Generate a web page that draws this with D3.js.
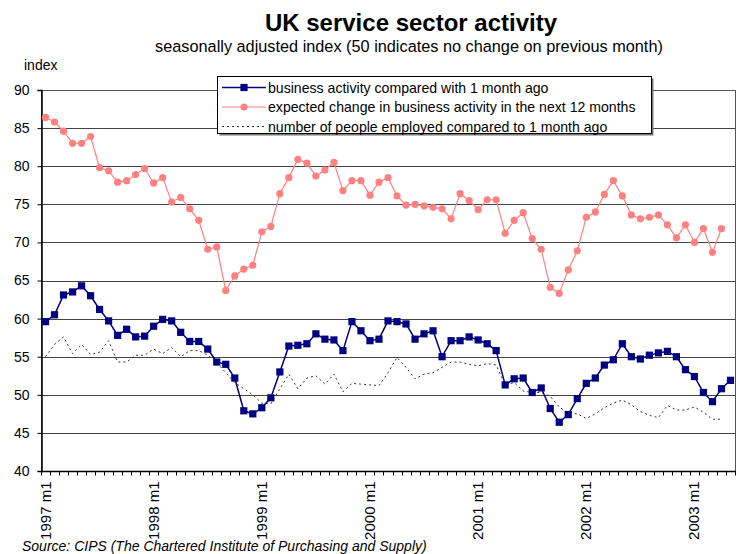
<!DOCTYPE html>
<html>
<head>
<meta charset="utf-8">
<script src="https://cdn.jsdelivr.net/npm/d3@7"></script>
<style>
  html, body { margin: 0; padding: 0; background: #fff; }
  svg { display: block; font-family: Arial, "Liberation Sans", sans-serif; }
</style>
</head>
<body>
<svg id="chart" width="738" height="554"></svg>
<script>
// Monthly categories, 1997 m1 to 2003 m5
const years = [1997, 1998, 1999, 2000, 2001, 2002, 2003];
const categories = [];
years.forEach(yr => {
  for (let m = 1; m <= 12; m++) {
    if (yr === 2003 && m > 5) break;
    categories.push(yr + " m" + m);
  }
});

// Axis labels shown on the category axis
const tickLabels = ["1997 m1", "1998 m1", "1999 m1", "2000 m1", "2001 m1", "2002 m1", "2003 m1"];
const yTicks = [40, 45, 50, 55, 60, 65, 70, 75, 80, 85, 90];

// Business activity compared with 1 month ago
const businessActivity = [
  59.6, 60.5, 63.1, 63.5, 64.3, 63.0, 61.2, 59.7, 57.8, 58.6, 57.6, 57.7,
  59.0, 59.9, 59.7, 58.2, 57.0, 57.0, 56.0, 54.3, 54.0, 52.2, 47.9, 47.5,
  48.3, 49.6, 53.0, 56.4, 56.5, 56.7, 58.0, 57.3, 57.2, 55.8, 59.6, 58.4,
  57.1, 57.3, 59.7, 59.6, 59.3, 57.3, 58.0, 58.4, 55.0, 57.1, 57.1, 57.6,
  57.2, 56.7, 55.8, 51.3, 52.1, 52.2, 50.3, 50.9, 48.2, 46.4, 47.4, 49.5,
  51.5, 52.2, 53.9, 54.6, 56.7, 55.0, 54.7, 55.2, 55.5, 55.7, 55.0, 53.3,
  52.4, 50.3, 49.1, 50.8, 51.9
];

// Expected change in business activity in the next 12 months
const expectedActivity = [
  86.4, 85.8, 84.6, 83.0, 83.0, 83.9, 79.8, 79.4, 77.9, 78.1, 78.9, 79.7,
  77.8, 78.5, 75.3, 75.9, 74.4, 72.9, 69.1, 69.4, 63.7, 65.6, 66.5, 67.0,
  71.4, 72.1, 76.4, 78.5, 80.9, 80.4, 78.7, 79.5, 80.5, 76.8, 78.1, 78.1,
  76.2, 77.9, 78.5, 76.1, 74.9, 75.0, 74.8, 74.6, 74.4, 73.1, 76.4, 75.5,
  74.3, 75.6, 75.6, 71.2, 72.9, 73.9, 70.5, 69.1, 64.1, 63.3, 66.4, 68.9,
  73.3, 74.0, 76.3, 78.1, 76.1, 73.6, 73.1, 73.3, 73.6, 72.3, 70.6, 72.3,
  70.0, 71.8, 68.7, 71.8
];

// Number of people employed compared to 1 month ago
const employment = [
  55.0, 56.6, 57.6, 55.4, 56.6, 55.3, 55.6, 57.1, 54.3, 54.3, 55.2, 55.2,
  56.0, 55.4, 56.2, 55.0, 55.8, 55.8, 55.2, 54.2, 52.9, 51.6, 50.8, 50.0,
  48.9, 48.8, 50.8, 52.7, 50.8, 52.2, 52.5, 51.4, 52.7, 50.4, 51.5, 51.4,
  51.3, 51.2, 52.9, 54.9, 53.6, 52.1, 52.7, 52.9, 53.6, 54.3, 54.3, 54.0,
  53.8, 54.1, 53.9, 51.3, 51.6, 50.5, 50.3, 50.3, 49.8, 48.4, 47.6, 47.5,
  46.9, 47.5, 48.3, 48.9, 49.3, 48.7, 47.8, 47.3, 47.0, 48.6, 48.0, 48.0,
  48.4, 47.7, 46.8, 46.8
];

const svg = d3.select("#chart");
const plot = { left: 41, right: 735, top: 90, bottom: 471 };

const x = d3.scaleBand().domain(categories).range([plot.left, plot.right]);
const y = d3.scaleLinear().domain([40, 90]).range([plot.bottom, plot.top]);
const cx = c => x(c) + x.bandwidth() / 2;
const crisp = v => Math.round(v) + 0.5;

// Title block
svg.append("text").attr("x", 411).attr("y", 31).attr("text-anchor", "middle")
  .attr("font-size", 24).attr("font-weight", "bold").attr("fill", "#000")
  .text("UK service sector activity");
svg.append("text").attr("x", 409).attr("y", 52).attr("text-anchor", "middle")
  .attr("font-size", 16.3).attr("fill", "#000")
  .text("seasonally adjusted index (50 indicates no change on previous month)");
svg.append("text").attr("x", 24).attr("y", 70)
  .attr("font-size", 14).attr("fill", "#000").text("index");

// Plot frame and horizontal gridlines
svg.append("rect")
  .attr("x", crisp(plot.left)).attr("y", crisp(plot.top))
  .attr("width", plot.right - plot.left).attr("height", plot.bottom - plot.top)
  .attr("fill", "none").attr("stroke", "#555").attr("stroke-width", 1);

svg.append("g").selectAll("line")
  .data(yTicks.filter(v => v > 40 && v < 90))
  .join("line")
  .attr("x1", plot.left).attr("x2", plot.right)
  .attr("y1", d => crisp(y(d))).attr("y2", d => crisp(y(d)))
  .attr("stroke", "#444").attr("stroke-width", 1);

// Y axis
const yAxis = d3.axisLeft(y).tickValues(yTicks).tickSize(4).tickPadding(8);
const gy = svg.append("g").attr("transform", `translate(${crisp(plot.left)},0)`).call(yAxis);
gy.select(".domain").attr("stroke", "#000").attr("stroke-width", 1.5);
gy.selectAll(".tick line").attr("stroke", "#000");
gy.selectAll(".tick text").attr("font-size", 14).attr("font-family", "Arial, 'Liberation Sans', sans-serif").attr("fill", "#000");

// X axis: ticks on category boundaries, labels on the first month of each year
const gx = svg.append("g").attr("transform", `translate(0,${crisp(plot.bottom)})`);
gx.append("line").attr("x1", plot.left).attr("x2", plot.right + 1)
  .attr("stroke", "#000").attr("stroke-width", 1.5);
const boundaries = categories.map(c => x(c)).concat([plot.right]);
gx.selectAll("line.tk").data(boundaries).join("line").attr("class", "tk")
  .attr("x1", d => crisp(d)).attr("x2", d => crisp(d))
  .attr("y1", 0).attr("y2", 4).attr("stroke", "#000");
gx.selectAll("text").data(tickLabels).join("text")
  .attr("transform", d => `translate(${cx(d) + 5},10) rotate(-90)`)
  .attr("text-anchor", "end").attr("font-size", 15).attr("fill", "#000")
  .text(d => d);

// Employment: dotted line
svg.append("path")
  .datum(employment)
  .attr("fill", "none").attr("stroke", "#333").attr("stroke-width", 1)
  .attr("stroke-dasharray", "2,3")
  .attr("d", d3.line().x((d, i) => cx(categories[i])).y(d => y(d)));

// Expected activity: pink line with circles
svg.append("path")
  .datum(expectedActivity)
  .attr("fill", "none").attr("stroke", "#FF8080").attr("stroke-width", 1.2)
  .attr("d", d3.line().x((d, i) => cx(categories[i])).y(d => y(d)));
svg.append("g").selectAll("circle").data(expectedActivity).join("circle")
  .attr("cx", (d, i) => cx(categories[i])).attr("cy", d => y(d))
  .attr("r", 3.6).attr("fill", "#FF8080");

// Business activity: navy line with squares
svg.append("path")
  .datum(businessActivity)
  .attr("fill", "none").attr("stroke", "#000080").attr("stroke-width", 1.5)
  .attr("d", d3.line().x((d, i) => cx(categories[i])).y(d => y(d)));
svg.append("g").selectAll("rect").data(businessActivity).join("rect")
  .attr("x", (d, i) => cx(categories[i]) - 3.6).attr("y", d => y(d) - 3.6)
  .attr("width", 7.2).attr("height", 7.2).attr("fill", "#000080");

// Legend
const lg = svg.append("g");
lg.append("rect").attr("x", 219.5).attr("y", 78.5).attr("width", 434).attr("height", 57)
  .attr("fill", "#777");
lg.append("rect").attr("x", 217.5).attr("y", 76.5).attr("width", 434).attr("height", 57)
  .attr("fill", "#fff").attr("stroke", "#000").attr("stroke-width", 1);
const items = [
  { label: "business activity compared with 1 month ago", type: "square" },
  { label: "expected change in business activity in the next 12 months", type: "circle" },
  { label: "number of people employed compared to 1 month ago", type: "dot" }
];
items.forEach((it, k) => {
  const ly = 87.5 + k * 19.5;
  const g = lg.append("g");
  if (it.type === "square") {
    g.append("line").attr("x1", 222).attr("x2", 266).attr("y1", ly).attr("y2", ly)
      .attr("stroke", "#000080").attr("stroke-width", 1.5);
    g.append("rect").attr("x", 240.4).attr("y", ly - 3.6).attr("width", 7.2).attr("height", 7.2)
      .attr("fill", "#000080");
  } else if (it.type === "circle") {
    g.append("line").attr("x1", 222).attr("x2", 266).attr("y1", ly).attr("y2", ly)
      .attr("stroke", "#FF8080").attr("stroke-width", 1.2);
    g.append("circle").attr("cx", 244).attr("cy", ly).attr("r", 3.6).attr("fill", "#FF8080");
  } else {
    g.append("line").attr("x1", 222).attr("x2", 266).attr("y1", ly).attr("y2", ly)
      .attr("stroke", "#333").attr("stroke-width", 1).attr("stroke-dasharray", "2,3");
  }
  g.append("text").attr("x", 268).attr("y", ly + 5).attr("font-size", 14.1)
    .attr("fill", "#000").text(it.label);
});

// Source note
svg.append("text").attr("x", 22).attr("y", 551).attr("font-size", 14)
  .attr("font-style", "italic").attr("fill", "#000")
  .text("Source: CIPS (The Chartered Institute of Purchasing and Supply)");
</script>
</body>
</html>
